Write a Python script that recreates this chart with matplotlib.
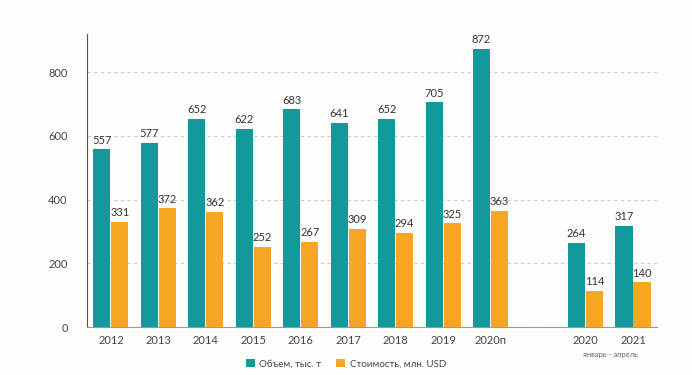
import matplotlib.pyplot as plt

plt.rcParams['font.family'] = ['Lato', 'DejaVu Sans']

# данные
labels = ['2012', '2013', '2014', '2015', '2016', '2017', '2018', '2019', '2020п', '2020', '2021']
pos = [0, 1, 2, 3, 4, 5, 6, 7, 8, 10, 11]
volume = [557, 577, 652, 622, 683, 641, 652, 705, 872, 264, 317]
cost = [331, 372, 362, 252, 267, 309, 294, 325, 363, 114, 140]

teal = '#13999c'
orange = '#f6a623'

fig = plt.figure(figsize=(6.92, 3.75), dpi=100)
fig.patch.set_facecolor('#fdfdfb')
ax = fig.add_axes([0.126, 0.128, 0.823, 0.781])
ax.set_facecolor('#fdfdfb')

w = 0.36
off = 0.19
b1 = ax.bar([p - off for p in pos], volume, w, color=teal, label='Объем, тыс. т', zorder=3)
b2 = ax.bar([p + off for p in pos], cost, w, color=orange, label='Стоимость, млн. USD', zorder=3)

for x, v in zip(pos, volume):
    ax.text(x - off, v + 12, str(v), ha='center', va='bottom', fontsize=8, color='#333333')
for x, v in zip(pos, cost):
    ax.text(x + off, v + 12, str(v), ha='center', va='bottom', fontsize=8, color='#333333')

ax.set_xlim(-0.5, 11.5)
ax.set_ylim(0, 919)
ax.set_yticks([0, 200, 400, 600, 800])
ax.set_xticks(pos)
ax.set_xticklabels(labels)
ax.tick_params(length=0, labelsize=8, colors='#444444', pad=6)
ax.tick_params(axis='y', pad=14)

ax.grid(axis='y', linestyle=(0, (3, 3)), color='#c8c8c8', linewidth=0.8, zorder=0)
for s in ['top', 'right']:
    ax.spines[s].set_visible(False)
ax.spines['left'].set_color('#555555')
ax.spines['bottom'].set_color('#999999')

fig.text(0.882, 0.055, 'январь - апрель', ha='center', va='center', fontsize=5.5, color='#5a6a7a')

fig.legend(handles=[b1, b2], loc='center', bbox_to_anchor=(0.5, 0.03), ncol=2,
           frameon=False, fontsize=7, handlelength=0.9, handleheight=0.9,
           columnspacing=1.5, handletextpad=0.5, labelcolor='#444444')

fig.savefig('out.png', dpi=100, facecolor=fig.get_facecolor())
